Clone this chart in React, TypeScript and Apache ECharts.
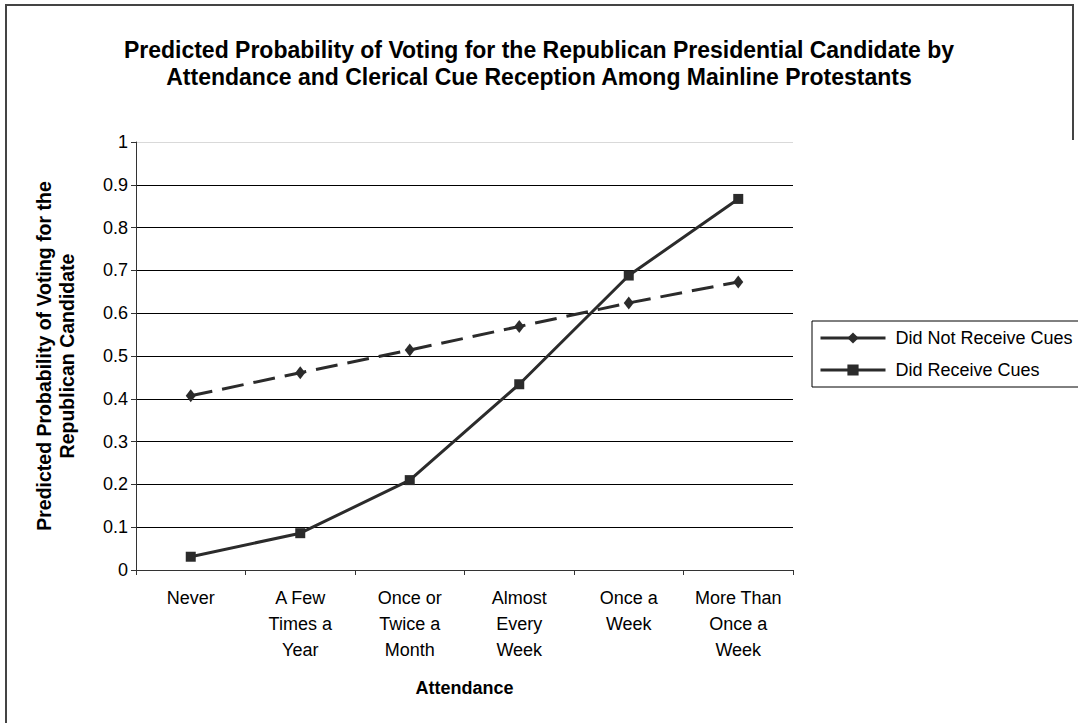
import React, { useEffect, useRef } from "react";
import * as echarts from "echarts";

// Attendance categories (x axis)
const categories = [
  "Never",
  "A Few\nTimes a\nYear",
  "Once or\nTwice a\nMonth",
  "Almost\nEvery\nWeek",
  "Once a\nWeek",
  "More Than\nOnce a\nWeek",
];

// Predicted probabilities by cue reception
const didNotReceiveCues = [0.407, 0.461, 0.514, 0.569, 0.624, 0.673];
const didReceiveCues = [0.031, 0.086, 0.21, 0.434, 0.688, 0.867];

const seriesNames = ["Did Not Receive Cues", "Did Receive Cues"];

const chartTitle =
  "Predicted Probability of Voting for the Republican Presidential Candidate by\nAttendance and Clerical Cue Reception Among Mainline Protestants";
const yTitle = "Predicted Probability of Voting for the\nRepublican Candidate";
const xTitle = "Attendance";

const FONT = "'Liberation Sans', Arial, sans-serif";
const INK = "#2b2b2b";

export default function App() {
  const ref = useRef<HTMLDivElement>(null);

  useEffect(() => {
    if (!ref.current) return;
    const chart = echarts.init(ref.current, null, { renderer: "svg" });

    // top gridline (at 1.0) is drawn faint, the others solid black
    const splitColors = Array.from({ length: 11 }, (_, i) => (i === 10 ? "#d9d9d9" : "#000"));

    chart.setOption({
      animation: false,
      backgroundColor: "#fff",
      textStyle: { fontFamily: FONT },
      title: {
        text: chartTitle,
        left: "center",
        top: 31,
        textStyle: {
          fontFamily: FONT,
          fontSize: 23,
          fontWeight: "bold",
          lineHeight: 27,
          color: "#000",
        },
      },
      grid: { left: 136, right: 285, top: 142, bottom: 153 },
      legend: {
        orient: "vertical",
        left: 812,
        top: 321,
        padding: [8, 8, 8, 7],
        borderColor: "#000",
        borderWidth: 1,
        backgroundColor: "#fff",
        itemWidth: 65,
        itemHeight: 14,
        itemGap: 14,
        textStyle: { fontFamily: FONT, fontSize: 18, color: "#000", padding: [0, 0, 0, 5] },
        lineStyle: { type: "solid", width: 3 },
        data: seriesNames,
      },
      xAxis: {
        type: "category",
        data: categories,
        boundaryGap: true,
        axisLine: { show: true, lineStyle: { color: "#333", width: 1 } },
        axisTick: { show: true, length: 5, interval: 0, lineStyle: { color: "#333" } },
        axisLabel: {
          interval: 0,
          margin: 15,
          fontSize: 18,
          lineHeight: 26,
          color: "#000",
          fontFamily: FONT,
        },
        name: xTitle,
        nameLocation: "middle",
        nameGap: 109,
        nameTextStyle: { fontFamily: FONT, fontSize: 18, fontWeight: "bold", color: "#000" },
      },
      yAxis: {
        type: "value",
        min: 0,
        max: 1,
        interval: 0.1,
        axisLine: { show: true, lineStyle: { color: "#333", width: 1 } },
        axisTick: { show: true, length: 5, lineStyle: { color: "#333" } },
        axisLabel: {
          margin: 8,
          fontSize: 18,
          color: "#000",
          fontFamily: FONT,
          formatter: (v: number) => String(Math.round(v * 10) / 10),
        },
        splitLine: { show: true, lineStyle: { color: splitColors, width: 1 } },
      },
      graphic: [
        {
          type: "text",
          x: 55,
          y: 356,
          rotation: Math.PI / 2,
          style: {
            text: yTitle,
            font: `bold 19.5px ${FONT}`,
            fill: "#000",
            textAlign: "center",
            textVerticalAlign: "middle",
            lineHeight: 23,
          },
        },
        {
          type: "polyline",
          shape: { points: [[6, 730], [6, 5], [1073, 5], [1073, 140]] },
          style: { stroke: "#444", lineWidth: 2, fill: "none" },
          silent: true,
        },
      ],
      series: [
        {
          name: seriesNames[0],
          type: "line",
          data: didNotReceiveCues,
          symbol: "diamond",
          symbolSize: [10, 13],
          lineStyle: { color: INK, width: 3, type: [22, 10] },
          itemStyle: { color: INK },
        },
        {
          name: seriesNames[1],
          type: "line",
          data: didReceiveCues,
          symbol: "rect",
          symbolSize: 10,
          lineStyle: { color: INK, width: 3, type: "solid" },
          itemStyle: { color: INK },
        },
      ],
    });

    return () => chart.dispose();
  }, []);

  return (
    <div
      ref={ref}
      style={{ position: "absolute", left: 0, top: 0, width: 1078, height: 723 }}
    />
  );
}
